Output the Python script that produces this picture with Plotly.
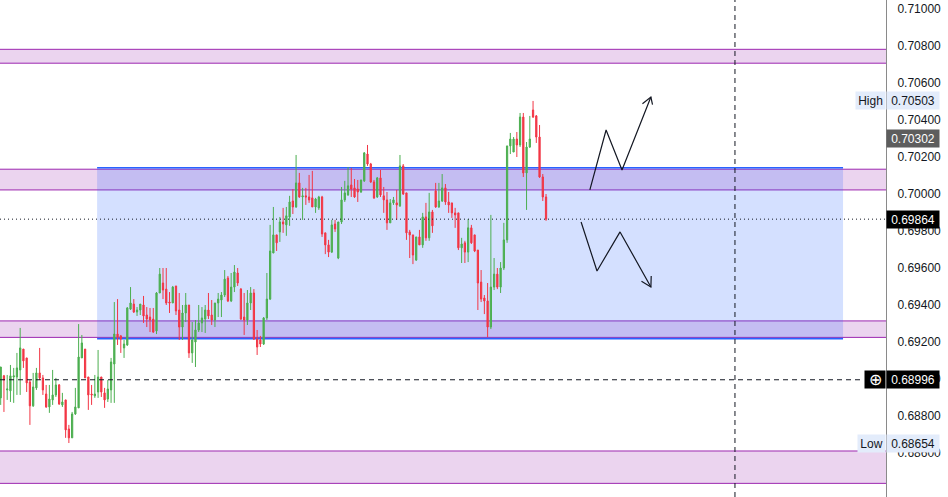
import plotly.graph_objects as go

# candle data (one bar per slot, left to right)
opens = [0.68898, 0.69017, 0.68941, 0.68936, 0.69011, 0.69011, 0.69049, 0.69162, 0.69114, 0.68984,
         0.68855, 0.68952, 0.69033, 0.69006, 0.68919, 0.68849, 0.68887, 0.68914, 0.68968, 0.68860,
         0.68887, 0.68730, 0.68682, 0.68811, 0.68844, 0.69114, 0.69162, 0.69011, 0.68919, 0.68909,
         0.68930, 0.69011, 0.68925, 0.68892, 0.68941, 0.69081, 0.69243, 0.69233, 0.69168, 0.69184,
         0.69378, 0.69405, 0.69362, 0.69373, 0.69400, 0.69346, 0.69335, 0.69324, 0.69260, 0.69465,
         0.69519, 0.69486, 0.69416, 0.69411, 0.69503, 0.69373, 0.69281, 0.69357, 0.69400, 0.69141,
         0.69200, 0.69265, 0.69303, 0.69324, 0.69373, 0.69346, 0.69319, 0.69411, 0.69427, 0.69454,
         0.69546, 0.69422, 0.69497, 0.69573, 0.69486, 0.69335, 0.69319, 0.69411, 0.69465, 0.69216,
         0.69211, 0.69189, 0.69330, 0.69432, 0.69681, 0.69779, 0.69795, 0.69849, 0.69833, 0.69876,
         0.69962, 0.69930, 0.70060, 0.69984, 0.69990, 0.69984, 0.69979, 0.69930, 0.69925, 0.69984,
         0.69790, 0.69725, 0.69686, 0.69838, 0.69654, 0.69849, 0.69968, 0.69995, 0.70049, 0.70033,
         0.70027, 0.70011, 0.70071, 0.70216, 0.70162, 0.70065, 0.69984, 0.70087, 0.69990, 0.69968,
         0.69844, 0.69952, 0.69952, 0.69936, 0.70152, 0.70006, 0.69795, 0.69779, 0.69643, 0.69768,
         0.69725, 0.69876, 0.69763, 0.69903, 0.70017, 0.69930, 0.69962, 0.70033, 0.69957, 0.69952,
         0.69898, 0.69898, 0.69709, 0.69736, 0.69686, 0.69817, 0.69779, 0.69697, 0.69524, 0.69438,
         0.69422, 0.69281, 0.69497, 0.69567, 0.69497, 0.69600, 0.69752, 0.70260, 0.70227, 0.70297,
         0.70265, 0.70416, 0.70114, 0.70254, 0.70454, 0.70422, 0.70308, 0.70092, 0.69984]
highs = [0.69065, 0.69022, 0.69022, 0.69076, 0.69060, 0.69141, 0.69276, 0.69162, 0.69114, 0.68995,
         0.69033, 0.69060, 0.69168, 0.69022, 0.68968, 0.68968, 0.69049, 0.69006, 0.68973, 0.68925,
         0.68887, 0.68752, 0.68822, 0.68952, 0.69297, 0.69238, 0.69162, 0.69011, 0.68968, 0.69022,
         0.69157, 0.69011, 0.68952, 0.68995, 0.69114, 0.69416, 0.69432, 0.69238, 0.69211, 0.69389,
         0.69497, 0.69432, 0.69389, 0.69405, 0.69449, 0.69389, 0.69384, 0.69384, 0.69470, 0.69600,
         0.69600, 0.69600, 0.69470, 0.69503, 0.69503, 0.69465, 0.69400, 0.69465, 0.69400, 0.69308,
         0.69319, 0.69400, 0.69389, 0.69400, 0.69465, 0.69427, 0.69411, 0.69465, 0.69470, 0.69589,
         0.69557, 0.69573, 0.69616, 0.69600, 0.69492, 0.69465, 0.69481, 0.69497, 0.69486, 0.69265,
         0.69233, 0.69335, 0.69573, 0.69833, 0.69930, 0.69779, 0.69876, 0.69925, 0.69930, 0.69990,
         0.70027, 0.70211, 0.70114, 0.70033, 0.70033, 0.70103, 0.70125, 0.69979, 0.69990, 0.69990,
         0.69790, 0.69752, 0.69860, 0.69860, 0.69849, 0.70038, 0.70071, 0.70146, 0.70141, 0.70081,
         0.70076, 0.70076, 0.70227, 0.70265, 0.70168, 0.70076, 0.70092, 0.70130, 0.70038, 0.70011,
         0.69973, 0.69984, 0.70022, 0.70211, 0.70162, 0.70006, 0.69806, 0.69779, 0.69768, 0.69806,
         0.69898, 0.69952, 0.70006, 0.69914, 0.70060, 0.70060, 0.70108, 0.70054, 0.70011, 0.69952,
         0.69925, 0.69898, 0.69763, 0.69747, 0.69865, 0.69833, 0.69779, 0.69697, 0.69589, 0.69454,
         0.69519, 0.69887, 0.69654, 0.69600, 0.69632, 0.69844, 0.70260, 0.70330, 0.70308, 0.70335,
         0.70438, 0.70438, 0.70281, 0.70422, 0.70503, 0.70427, 0.70373, 0.70108, 0.70000]
lows = [0.68860, 0.68822, 0.68887, 0.68876, 0.68871, 0.68914, 0.68914, 0.69060, 0.68930, 0.68752,
        0.68849, 0.68941, 0.68995, 0.68914, 0.68844, 0.68817, 0.68860, 0.68903, 0.68860, 0.68849,
        0.68682, 0.68654, 0.68682, 0.68806, 0.68844, 0.69114, 0.69006, 0.68833, 0.68860, 0.68898,
        0.68898, 0.68903, 0.68844, 0.68876, 0.68871, 0.68871, 0.69184, 0.69141, 0.69114, 0.69179,
        0.69373, 0.69357, 0.69341, 0.69346, 0.69303, 0.69281, 0.69254, 0.69249, 0.69243, 0.69465,
        0.69432, 0.69400, 0.69357, 0.69411, 0.69346, 0.69211, 0.69211, 0.69308, 0.69114, 0.69087,
        0.69065, 0.69254, 0.69254, 0.69249, 0.69324, 0.69292, 0.69281, 0.69335, 0.69335, 0.69443,
        0.69416, 0.69416, 0.69470, 0.69503, 0.69319, 0.69238, 0.69292, 0.69373, 0.69211, 0.69130,
        0.69173, 0.69184, 0.69319, 0.69427, 0.69681, 0.69692, 0.69741, 0.69790, 0.69774, 0.69828,
        0.69892, 0.69925, 0.69979, 0.69860, 0.69941, 0.69952, 0.69930, 0.69898, 0.69914, 0.69768,
        0.69675, 0.69659, 0.69681, 0.69795, 0.69648, 0.69838, 0.69957, 0.69990, 0.69984, 0.69979,
        0.69957, 0.70006, 0.70065, 0.70152, 0.70060, 0.69973, 0.69979, 0.69984, 0.69898, 0.69806,
        0.69844, 0.69941, 0.69860, 0.69930, 0.69995, 0.69752, 0.69654, 0.69621, 0.69638, 0.69725,
        0.69709, 0.69747, 0.69747, 0.69790, 0.69925, 0.69925, 0.69957, 0.69941, 0.69898, 0.69871,
        0.69817, 0.69697, 0.69627, 0.69627, 0.69632, 0.69730, 0.69686, 0.69373, 0.69416, 0.69351,
        0.69227, 0.69270, 0.69481, 0.69486, 0.69465, 0.69589, 0.69736, 0.70216, 0.70227, 0.70200,
        0.70254, 0.70092, 0.69914, 0.70249, 0.70411, 0.70276, 0.70087, 0.69962, 0.69855]
closes = [0.69065, 0.68995, 0.68946, 0.69017, 0.69017, 0.69060, 0.69168, 0.69098, 0.68979, 0.68855,
          0.68957, 0.69033, 0.69006, 0.68941, 0.68849, 0.68892, 0.68914, 0.68968, 0.68865, 0.68876,
          0.68725, 0.68682, 0.68811, 0.68849, 0.69119, 0.69195, 0.69006, 0.68914, 0.68914, 0.68919,
          0.69011, 0.68930, 0.68887, 0.68946, 0.69092, 0.69243, 0.69227, 0.69216, 0.69189, 0.69384,
          0.69411, 0.69362, 0.69373, 0.69405, 0.69341, 0.69324, 0.69319, 0.69254, 0.69465, 0.69567,
          0.69481, 0.69411, 0.69411, 0.69497, 0.69368, 0.69281, 0.69357, 0.69400, 0.69141, 0.69211,
          0.69265, 0.69303, 0.69330, 0.69373, 0.69341, 0.69319, 0.69411, 0.69432, 0.69454, 0.69540,
          0.69422, 0.69497, 0.69578, 0.69519, 0.69324, 0.69319, 0.69411, 0.69465, 0.69216, 0.69173,
          0.69189, 0.69330, 0.69432, 0.69692, 0.69779, 0.69736, 0.69849, 0.69838, 0.69882, 0.69957,
          0.69930, 0.70060, 0.69984, 0.69990, 0.69984, 0.69968, 0.69930, 0.69973, 0.69984, 0.69784,
          0.69725, 0.69686, 0.69833, 0.69811, 0.69849, 0.69968, 0.70006, 0.70044, 0.70027, 0.69984,
          0.70011, 0.70076, 0.70222, 0.70162, 0.70065, 0.69979, 0.70087, 0.69995, 0.69968, 0.69844,
          0.69952, 0.69968, 0.69941, 0.70152, 0.70000, 0.69790, 0.69779, 0.69670, 0.69768, 0.69725,
          0.69876, 0.69763, 0.69903, 0.69828, 0.69930, 0.69962, 0.70033, 0.69957, 0.69941, 0.69898,
          0.69887, 0.69709, 0.69730, 0.69686, 0.69817, 0.69736, 0.69692, 0.69519, 0.69432, 0.69422,
          0.69281, 0.69497, 0.69567, 0.69497, 0.69600, 0.69752, 0.70260, 0.70297, 0.70297, 0.70265,
          0.70416, 0.70114, 0.70254, 0.70297, 0.70416, 0.70308, 0.70092, 0.69984, 0.69864]
bars = list(range(len(opens)))

# supply / demand zones (price bottom, top)
zones = [(0.70707, 0.70782), (0.70022, 0.70134), (0.69225, 0.69314), (0.68436, 0.68611)]
# trading range box
box_bars = (29.7, 259.5)
box_prices = (0.69218, 0.70142)

last_price = 0.69864
cross_price = 0.68996
prev_price = 0.70302
high_price = 0.70503
low_price = 0.68654
cursor_bar = 226.2

# projected paths (bar, price)
up_x = [181.5, 186.5, 191.4, 200.3, None, 197.7, 200.3, 200.8]
up_y = [0.70022, 0.70346, 0.70130, 0.70524, None, 0.70488, 0.70524, 0.70483]
down_x = [178.8, 183.7, 190.8, 200.3, None, 197.4, 200.3, 200.4]
down_y = [0.69849, 0.69584, 0.69795, 0.69497, None, 0.69528, 0.69497, 0.69557]

x_range = [-0.216, 272.73]
y_range = [0.683623, 0.710486]
font = "Liberation Sans"

fig = go.Figure()
fig.add_trace(go.Candlestick(
    x=bars, open=opens, high=highs, low=lows, close=closes,
    increasing=dict(line=dict(color="#4caf50", width=1), fillcolor="#4caf50"),
    decreasing=dict(line=dict(color="#f23645", width=1), fillcolor="#f23645"),
    showlegend=False, hoverinfo="skip"))

for px_, py_ in [(up_x, up_y), (down_x, down_y)]:
    fig.add_trace(go.Scatter(x=px_, y=py_, mode="lines", line=dict(color="#131722", width=1.2),
                             showlegend=False, hoverinfo="skip"))

shapes = []
for lo, hi in zones:
    shapes.append(dict(type="rect", xref="x", yref="y", x0=-20, x1=400, y0=lo, y1=hi,
                       fillcolor="rgba(156,39,176,0.2)", line=dict(color="#9c27b0", width=1),
                       layer="below"))
shapes.append(dict(type="rect", xref="x", yref="y", x0=box_bars[0], x1=box_bars[1],
                   y0=box_prices[0], y1=box_prices[1], fillcolor="rgba(41,98,255,0.2)",
                   line=dict(width=0), layer="below"))
for p in box_prices:
    shapes.append(dict(type="line", xref="x", yref="y", x0=box_bars[0], x1=box_bars[1], y0=p, y1=p,
                       line=dict(color="#2962ff", width=1.5), layer="below"))
shapes.append(dict(type="line", xref="x", yref="paper", x0=cursor_bar, x1=cursor_bar, y0=0, y1=1,
                   line=dict(color="#131722", width=1, dash="5px,4px")))
shapes.append(dict(type="line", xref="paper", yref="y", x0=0, x1=0.975, y0=cross_price, y1=cross_price,
                   line=dict(color="#131722", width=1, dash="5px,4px")))
shapes.append(dict(type="line", xref="paper", yref="y", x0=0, x1=1, y0=last_price, y1=last_price,
                   line=dict(color="#131722", width=1, dash="1px,3px")))

annotations = []


def price_label(price, bg, fg):
    annotations.append(dict(xref="paper", yref="y", x=1, y=price, xanchor="left", yanchor="middle",
                            text=f"{price:.5f}", showarrow=False, bgcolor=bg, width=50, height=15,
                            borderpad=1, align="center", font=dict(family=font, size=12, color=fg)))


def side_tag(price, text, bg, fg, size=12, width=None):
    annotations.append(dict(xref="paper", yref="y", x=1, y=price, xanchor="right", yanchor="middle",
                            text=text, showarrow=False, bgcolor=bg, height=15, width=width,
                            borderpad=1, font=dict(family=font, size=size, color=fg)))


price_label(high_price, "#e3ecfb", "#131722")
side_tag(high_price, "High", "#e3ecfb", "#131722", width=27)
price_label(prev_price, "#5d5d5d", "#ffffff")
price_label(last_price, "#000000", "#ffffff")
price_label(cross_price, "#000000", "#ffffff")
side_tag(cross_price, "⊕", "#000000", "#ffffff", size=16, width=18)
price_label(low_price, "#e3ecfb", "#131722")
side_tag(low_price, "Low", "#e3ecfb", "#131722", width=25)

fig.update_layout(
    width=948, height=497,
    margin=dict(l=0, r=62, t=0, b=0),
    paper_bgcolor="white", plot_bgcolor="white",
    shapes=shapes, annotations=annotations,
    boxgap=0.45,
    xaxis=dict(range=x_range, visible=False, rangeslider=dict(visible=False), fixedrange=True),
    yaxis=dict(range=y_range, side="right", tick0=0.684, dtick=0.002, tickformat=".5f",
               showgrid=False, zeroline=False, showline=True, linecolor="#8a8a8a", linewidth=1,
               ticks="", ticklabelstandoff=8, fixedrange=True,
               tickfont=dict(family=font, size=12, color="#131722")),
)

# the page's default body margin would push the chart out of the window
fig.write_html("out.html", config={"displayModeBar": False},
               post_script="document.body.style.margin='0';")
